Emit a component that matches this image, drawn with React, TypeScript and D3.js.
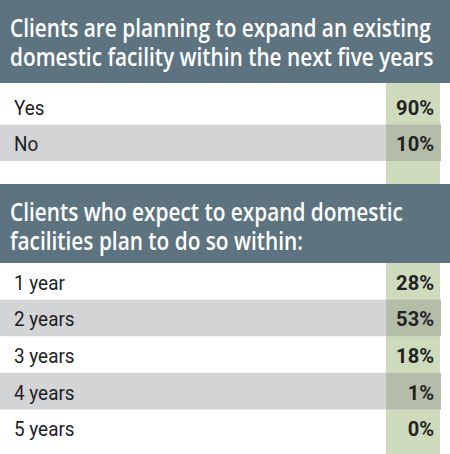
import React, { useEffect, useRef } from 'react';
import * as d3 from 'd3';

// survey data
const planTitle = ['Clients are planning to expand an existing', 'domestic facility within the next five years'];
const planLabels = ['Yes', 'No'];
const planValues = [90, 10];

const timingTitle = ['Clients who expect to expand domestic', 'facilities plan to do so within:'];
const timingLabels = ['1 year', '2 years', '3 years', '4 years', '5 years'];
const timingValues = [28, 53, 18, 1, 0];

const W = 450;
const H = 454;
const HEADER = '#5d7480';
const STRIPE = '#d3d4d6';
const GREEN = '#cfdbbd';

const App = () => {
  const svgRef = useRef(null);

  useEffect(() => {
    document.body.style.margin = '0';
    const svg = d3.select(svgRef.current);
    svg.selectAll('*').remove();

    const colX = d3.scaleLinear().domain([0, 1]).range([386, 440]);
    const labelX = 14;
    const valueX = 434;

    const drawBlock = (top, title, labels, values, rowsTop, rowsBottom, greenBottom, gap) => {
      const g = svg.append('g');
      // header band
      g.append('rect').attr('x', 0).attr('y', top).attr('width', W).attr('height', rowsTop - top - gap)
        .attr('fill', HEADER);
      title.forEach((line, i) => {
        g.append('text')
          .attr('transform', `translate(10,${top + 37 + i * 28.5}) scale(0.85,1)`)
          .attr('font-family', '"Open Sans", sans-serif')
          .attr('font-weight', 600)
          .attr('font-size', 24.5)
          .attr('fill', '#ffffff')
          .text(line);
      });

      const y = d3.scaleBand().domain(labels).range([rowsTop, rowsBottom]);
      const greenTop = rowsTop - gap;

      // green value column
      g.append('rect').attr('x', colX(0)).attr('y', greenTop)
        .attr('width', colX(1) - colX(0)).attr('height', greenBottom - greenTop)
        .attr('fill', GREEN);

      // stripes on every other row, darker where they cross the column
      labels.forEach((lab, i) => {
        if (i % 2 === 1) {
          g.append('rect').attr('x', 0).attr('y', y(lab)).attr('width', 441).attr('height', y.bandwidth())
            .attr('fill', STRIPE);
          g.append('rect').attr('x', colX(0)).attr('y', y(lab)).attr('width', colX(1) - colX(0) + 1).attr('height', y.bandwidth())
            .attr('fill', '#b4bda8');
        }
      });

      labels.forEach((lab, i) => {
        const cy = y(lab) + y.bandwidth() / 2 + 8.5;
        g.append('text')
          .attr('transform', `translate(${labelX},${cy}) scale(0.9,1)`)
          .attr('font-family', 'Roboto, sans-serif')
          .attr('font-weight', 400)
          .attr('font-size', 21)
          .attr('fill', '#1e1e1e')
          .text(lab);
        g.append('text')
          .attr('transform', `translate(${valueX},${cy}) scale(0.98,1)`)
          .attr('text-anchor', 'end')
          .attr('font-family', 'Roboto, sans-serif')
          .attr('font-weight', 700)
          .attr('font-size', 20.5)
          .attr('fill', '#222222')
          .text(`${values[i]}%`);
      });
    };

    drawBlock(0, planTitle, planLabels, planValues, 88, 161, 184, 5);
    drawBlock(184, timingTitle, timingLabels, timingValues, 263, 446, H, 0);
  }, []);

  return <svg ref={svgRef} width={W} height={H} style={{ display: 'block', background: '#ffffff' }} />;
};

export default App;
